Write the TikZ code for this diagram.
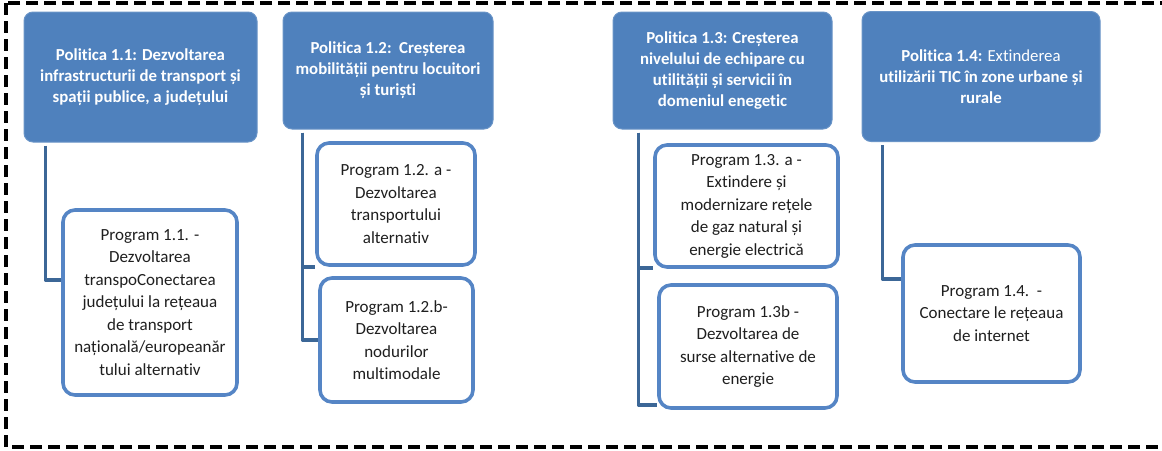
\documentclass[tikz,border=0pt]{standalone}
\usepackage{fontspec}
\setmainfont{Carlito}[Ligatures={NoCommon}]
\usetikzlibrary{positioning}
\definecolor{polblue}{HTML}{4F81BD}
\definecolor{linkblue}{HTML}{3C6797}
\definecolor{progline}{HTML}{5585C5}
\tikzset{
  polbox/.style={rectangle, rounded corners=9pt, fill=polblue, draw=polblue!85!white, line width=1pt, text=white, align=center, font=\fontsize{16.8}{21}\selectfont\bfseries},
  progbox/.style={rectangle, rounded corners=12pt, fill=white, draw=progline, line width=3.6pt, text=black!88, align=center, font=\fontsize{17}{22.5}\selectfont},
  link/.style={draw=linkblue, line width=3.4pt},
  frame/.style={line width=3.2pt, dash pattern=on 12pt off 6pt}
}
\begin{document}
\begin{tikzpicture}[x=1pt,y=-1pt,line join=round]
\useasboundingbox (0,0) rectangle (1162,450);
\draw[frame] (6,3) rectangle (1180,447);
% politici
\node[polbox, minimum width=233pt, minimum height=130pt] (p11) at (140.5,77) {Politica 1.1: Dezvoltarea\\infrastructurii de transport și\\spații publice, a județului};
\node[polbox, minimum width=210pt, minimum height=117pt] (p12) at (388,70.5) {Politica 1.2:\ \ Creșterea\\mobilității pentru locuitori\\și turiști};
\node[polbox, minimum width=219pt, minimum height=117pt] (p13) at (722.5,70.5) {Politica 1.3: Creșterea\\nivelului de echipare cu\\utilității și servicii în\\domeniul enegetic};
\node[polbox, minimum width=238pt, minimum height=130pt] (p14) at (981,76.5) {Politica 1.4: \mdseries Extinderea\\utilizării TIC în zone urbane și\\rurale};
% programe
\node[progbox, minimum width=174pt, minimum height=185pt] (g11) at (150,302.5) {Program 1.1. -\\Dezvoltarea\\transpoConectarea\\județului la rețeaua\\de transport\\națională/europeanăr\\tului alternativ};
\node[progbox, minimum width=158pt, minimum height=122pt] (g12a) at (396,204) {Program 1.2. a -\\Dezvoltarea\\transportului\\alternativ};
\node[progbox, minimum width=153pt, minimum height=124pt] (g12b) at (396.5,340) {Program 1.2.b-\\Dezvoltarea\\nodurilor\\multimodale};
\node[progbox, minimum width=183pt, minimum height=122pt] (g13a) at (746.5,206) {Program 1.3. a -\\Extindere și\\modernizare rețele\\de gaz natural și\\energie electrică};
\node[progbox, minimum width=178pt, minimum height=123pt] (g13b) at (748,346.5) {Program 1.3b -\\Dezvoltarea de\\surse alternative de\\energie};
\node[progbox, minimum width=177pt, minimum height=137pt] (g14) at (991.5,313.5) {Program 1.4.\ \ -\\Conectare le rețeaua\\de internet};
% legaturi
\draw[link] ([xshift=22pt,yshift=-3pt]p11.south west) |- ([yshift=22.5pt]g11.west);
\draw[link] ([xshift=20pt,yshift=-3pt]p12.south west) |- (g12a.south west);
\draw[link] ([xshift=20pt,yshift=-3pt]p12.south west) |- (g12b.west);
\draw[link] ([xshift=26pt,yshift=-3pt]p13.south west) |- ([yshift=1pt]g13a.south west);
\draw[link] ([xshift=26pt,yshift=-3pt]p13.south west) |- ([yshift=5pt]g13b.south west);
\draw[link] ([xshift=21pt,yshift=-3pt]p14.south west) |- ([yshift=34.5pt]g14.west);
\end{tikzpicture}
\end{document}
